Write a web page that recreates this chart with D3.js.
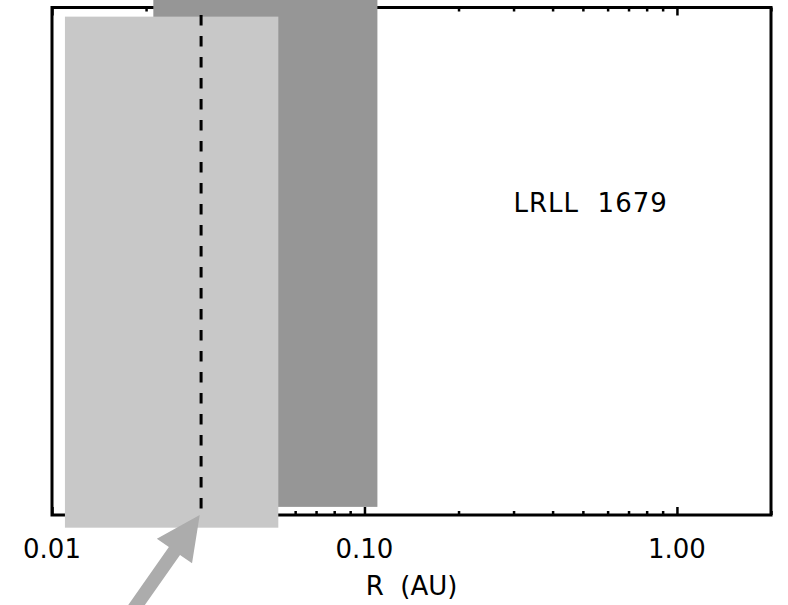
<!DOCTYPE html>
<html>
<head>
<meta charset="utf-8">
<script src="https://cdn.jsdelivr.net/npm/d3@7/dist/d3.min.js"></script>
<style>
  html, body { margin: 0; padding: 0; background: #fff; }
  svg { display: block; }
  text { font-family: "DejaVu Sans", sans-serif; fill: #000; }
</style>
</head>
<body>
<svg id="chart" width="788" height="605"></svg>
<script>
// ---- data ----
const xDomain = [0.01, 2.0];
const yDomain = [0, 1];
const majorTicks = [0.01, 0.1, 1.0];
const majorTickLabels = ["0.01", "0.10", "1.00"];
const minorTicks = [0.02, 0.03, 0.04, 0.05, 0.06, 0.07, 0.08, 0.09,
                    0.2, 0.3, 0.4, 0.5, 0.6, 0.7, 0.8, 0.9, 2.0];
// shaded radial ranges (AU) and vertical extents (arbitrary units)
const darkBand  = { x0: 0.0211, x1: 0.110, y0: 0.016, y1: 1.06 };
const lightBand = { x0: 0.0110, x1: 0.0530, y0: -0.025, y1: 0.982 };
const dashedLine = { x: 0.0300, y0: 0, y1: 0.985 };
const arrow = { tipX: 0.0297, tipY: 0, tailX: 0.01624, tailY: -0.23 };
const label = { x: 0.300, y: 0.597, text: "LRLL\u00a0\u00a01679" };
const xTitle = "R\u00a0\u00a0(AU)";

// ---- layout ----
const svg = d3.select("#chart");
const mLeft = 52, mRight = 771, mTop = 7.5, mBottom = 515;
const x = d3.scaleLog().domain(xDomain).range([mLeft, mRight]);
const y = d3.scaleLinear().domain(yDomain).range([mBottom, mTop]);

// frame
svg.append("rect")
  .attr("x", mLeft).attr("y", mTop)
  .attr("width", mRight - mLeft).attr("height", mBottom - mTop)
  .attr("fill", "none").attr("stroke", "#000").attr("stroke-width", 3);

// ticks (inward)
function addTicks(gen, values, size, ypos) {
  const g = svg.append("g").attr("transform", `translate(0,${ypos})`)
    .call(gen(x).tickValues(values).tickSize(size).tickFormat(""));
  g.select(".domain").remove();
  g.selectAll(".tick line").attr("stroke", "#000").attr("stroke-width", 2.5);
  return g;
}
addTicks(d3.axisBottom, majorTicks, -8, mBottom);
addTicks(d3.axisBottom, minorTicks, -4, mBottom);
addTicks(d3.axisTop, majorTicks, -8, mTop);
addTicks(d3.axisTop, minorTicks, -4, mTop);

// tick labels
svg.append("g").selectAll("text").data(majorTicks).join("text")
  .attr("x", d => x(d))
  .attr("y", mBottom + 43)
  .attr("text-anchor", "middle")
  .attr("font-size", 26)
  .text((d, i) => majorTickLabels[i]);

// axis title
svg.append("text")
  .attr("x", (mLeft + mRight) / 2)
  .attr("y", 595)
  .attr("text-anchor", "middle")
  .attr("font-size", 26)
  .text(xTitle);

// dark band
svg.append("rect")
  .attr("x", x(darkBand.x0)).attr("y", y(darkBand.y1))
  .attr("width", x(darkBand.x1) - x(darkBand.x0))
  .attr("height", y(darkBand.y0) - y(darkBand.y1))
  .attr("fill", "#969696");

// light band
svg.append("rect")
  .attr("x", x(lightBand.x0)).attr("y", y(lightBand.y1))
  .attr("width", x(lightBand.x1) - x(lightBand.x0))
  .attr("height", y(lightBand.y0) - y(lightBand.y1))
  .attr("fill", "#c8c8c8");

// dashed line
svg.append("line")
  .attr("x1", x(dashedLine.x)).attr("x2", x(dashedLine.x))
  .attr("y1", y(dashedLine.y1)).attr("y2", y(dashedLine.y0))
  .attr("stroke", "#000").attr("stroke-width", 3)
  .attr("stroke-dasharray", "10.5,10.5");

// label
svg.append("text")
  .attr("x", x(label.x)).attr("y", y(label.y))
  .attr("font-size", 26)
  .attr("letter-spacing", 1)
  .text(label.text);

// arrow
{
  const tx = x(arrow.tipX), ty = y(arrow.tipY);
  const sx = x(arrow.tailX), sy = y(arrow.tailY);
  const dx = tx - sx, dy = ty - sy, L = Math.hypot(dx, dy);
  const ux = dx / L, uy = dy / L, px = -uy, py = ux;
  const headLen = 44, headHalf = 21.5, shaftHalf = 6.8;
  const bx = tx - ux * headLen, by = ty - uy * headLen;
  const pts = [
    [sx + px * shaftHalf, sy + py * shaftHalf],
    [bx + px * shaftHalf, by + py * shaftHalf],
    [bx + px * headHalf, by + py * headHalf],
    [tx, ty],
    [bx - px * headHalf, by - py * headHalf],
    [bx - px * shaftHalf, by - py * shaftHalf],
    [sx - px * shaftHalf, sy - py * shaftHalf]
  ];
  svg.append("path")
    .attr("d", d3.line()(pts) + "Z")
    .attr("fill", "#acacac");
}
</script>
</body>
</html>
